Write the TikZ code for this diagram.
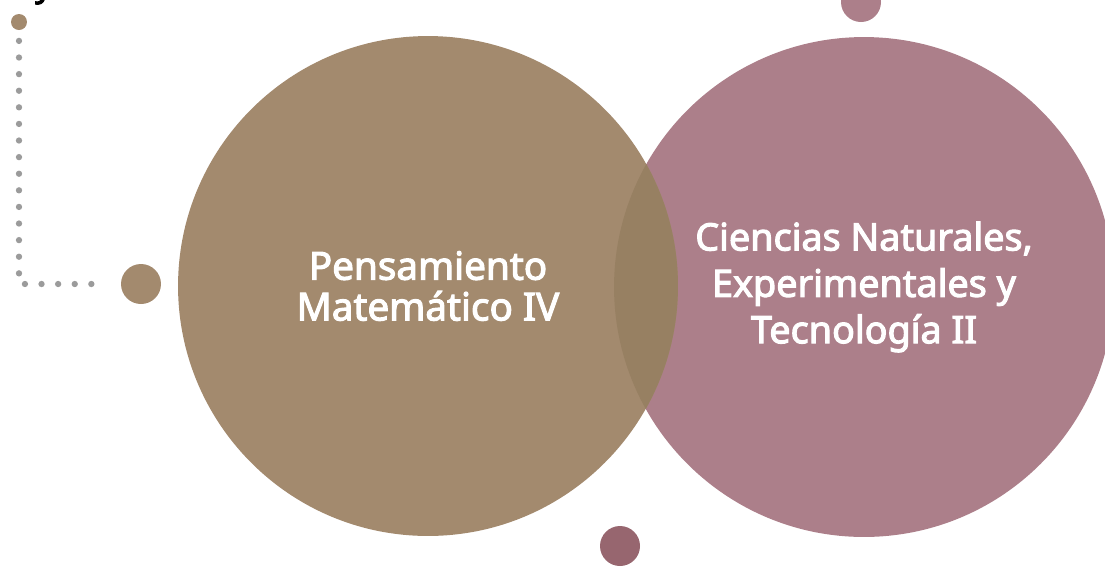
\documentclass[tikz,border=0pt]{standalone}
\usepackage{fontspec}
\setmainfont{Noto Sans}[AutoFakeBold=2.8]
\usetikzlibrary{positioning}

\definecolor{pmbrown}{HTML}{A38A6E}
\definecolor{cnrose}{HTML}{AC7F8A}
\definecolor{mixbrown}{HTML}{978062}
\definecolor{darkrose}{HTML}{97666F}
\definecolor{dotgray}{HTML}{9B9B9B}

\tikzset{
  bigcircle/.style = {circle, minimum size=10cm, inner sep=0pt, text=white,
    align=center, font=\bfseries\fontsize{22}{23.2}\selectfont},
  smallcircle/.style = {circle, minimum size=0.8cm, inner sep=0pt},
  dotline/.style = {dotgray, line width=3.6pt, line cap=round,
    dash pattern=on 0pt off 9.45pt}
}

\begin{document}
\begin{tikzpicture}[x=0.02cm, y=-0.02cm]
    \useasboundingbox (0,0) rectangle (1105,566);

    \node (cn) [bigcircle, fill=cnrose,
      font=\bfseries\fontsize{21.5}{26.4}\selectfont] at (864,287)
      {Ciencias Naturales,\\Experimentales y\\Tecnología II};
    \node (pm) [bigcircle, fill=pmbrown] at (428,286)
      {Pensamiento\\Matemático IV};
    \begin{scope}
      \clip (pm.center) circle (5cm);
      \fill [mixbrown] (cn.center) circle (5cm);
    \end{scope}

    \node (topdot) [smallcircle, fill=cnrose] at (861,2) {};
    \node (bottomdot) [smallcircle, fill=darkrose] at (620,546) {};
    \node (leftdot) [smallcircle, fill=pmbrown] at (141,284) {};
    \node (cornerdot) [circle, minimum size=0.32cm, inner sep=0pt,
      fill=pmbrown] at (19,22) {};
    \node (ytail) [anchor=base, inner sep=0pt,
      font=\bfseries\fontsize{19.8}{23.2}\selectfont] at (44,-4) {y};

    \coordinate (lineend) at (96,284);
    \draw [dotline] ([yshift=-6pt]cornerdot.south) |- (lineend);
    \end{tikzpicture}
\end{document}
